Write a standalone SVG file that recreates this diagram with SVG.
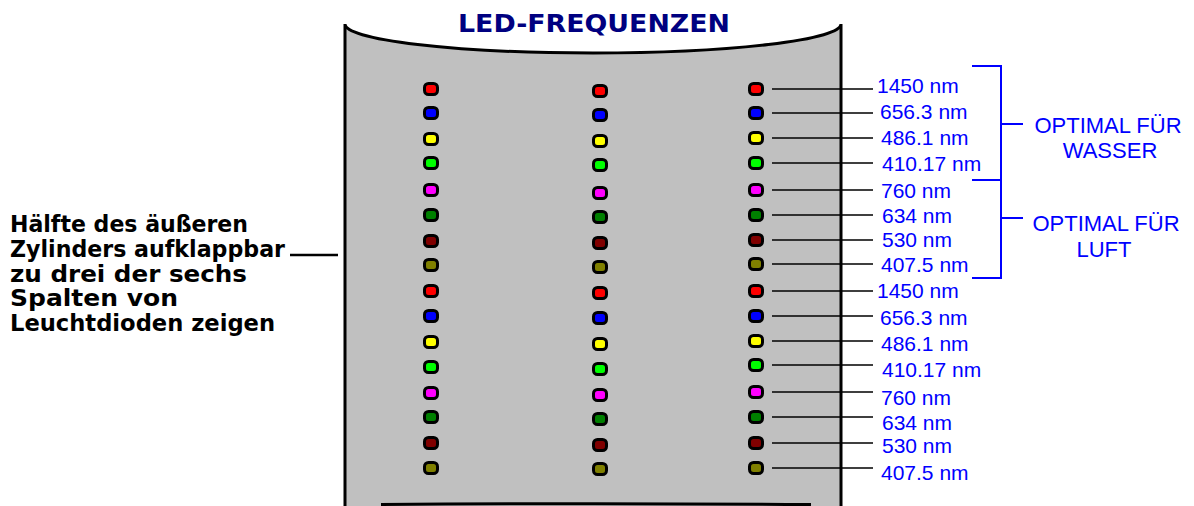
<svg xmlns="http://www.w3.org/2000/svg" width="1194" height="506" viewBox="0 0 1194 506">
<style>
.led{stroke:#000;stroke-width:3}
.r{fill:#ff0000}.b{fill:#0000ff}.y{fill:#ffff00}.g{fill:#00ff00}.m{fill:#ff00ff}.dg{fill:#008000}.dr{fill:#800000}.ol{fill:#808000}
.nm{font-family:"Liberation Sans",Arial,sans-serif;font-size:21px;fill:#0000ff}
.opt{font-family:"Liberation Sans",Arial,sans-serif;font-size:22px;fill:#0000ff;text-anchor:middle}
.lbl{font-family:"DejaVu Sans",sans-serif;font-weight:bold;font-size:23px;fill:#000}
.ln{stroke:#000;stroke-width:1.6;fill:none}
.br{stroke:#0000ff;stroke-width:2;fill:none}
</style>
<defs>
<rect id="led" x="-6.5" y="-5.5" width="13" height="11" rx="4"/>
</defs>
<rect width="1194" height="506" fill="#fff"/>
<g id="cylinder">
<path d="M345,24 A248,29 0 0 0 841,24 L841,506 L345,506 Z" fill="#c0c0c0"/>
<path d="M345,506 L345,24 A248,29 0 0 0 841,24 L841,506" fill="none" stroke="#000" stroke-width="3"/>
<path d="M381,504.5 Q595,503 811,504.5" fill="none" stroke="#000" stroke-width="3"/>
</g>
<g id="title">
<text x="594" y="32" text-anchor="middle" font-family="DejaVu Sans, sans-serif" font-weight="bold" font-size="25" fill="#000080" textLength="272" lengthAdjust="spacingAndGlyphs">LED-FREQUENZEN</text>
</g>
<g id="left-label">
<text class="lbl" x="10" y="232" textLength="238" lengthAdjust="spacingAndGlyphs">Hälfte des äußeren</text>
<text class="lbl" x="10" y="257" textLength="275" lengthAdjust="spacingAndGlyphs">Zylinders aufklappbar</text>
<text class="lbl" x="10" y="282" textLength="237" lengthAdjust="spacingAndGlyphs">zu drei der sechs</text>
<text class="lbl" x="10" y="306" textLength="168" lengthAdjust="spacingAndGlyphs">Spalten von</text>
<text class="lbl" x="10" y="331" textLength="265" lengthAdjust="spacingAndGlyphs">Leuchtdioden zeigen</text>
</g>
<g id="led-column-left" class="led">
<use href="#led" x="431" y="89" class="r"/>
<use href="#led" x="431" y="113" class="b"/>
<use href="#led" x="431" y="139" class="y"/>
<use href="#led" x="431" y="163" class="g"/>
<use href="#led" x="431" y="190" class="m"/>
<use href="#led" x="431" y="215" class="dg"/>
<use href="#led" x="431" y="241" class="dr"/>
<use href="#led" x="431" y="265" class="ol"/>
<use href="#led" x="431" y="291" class="r"/>
<use href="#led" x="431" y="316" class="b"/>
<use href="#led" x="431" y="342" class="y"/>
<use href="#led" x="431" y="367" class="g"/>
<use href="#led" x="431" y="393" class="m"/>
<use href="#led" x="431" y="417" class="dg"/>
<use href="#led" x="431" y="443" class="dr"/>
<use href="#led" x="431" y="468" class="ol"/>
</g>
<g id="led-column-middle" class="led">
<use href="#led" x="600" y="91" class="r"/>
<use href="#led" x="600" y="115" class="b"/>
<use href="#led" x="600" y="141" class="y"/>
<use href="#led" x="600" y="165" class="g"/>
<use href="#led" x="600" y="193" class="m"/>
<use href="#led" x="600" y="217" class="dg"/>
<use href="#led" x="600" y="243" class="dr"/>
<use href="#led" x="600" y="267" class="ol"/>
<use href="#led" x="600" y="293" class="r"/>
<use href="#led" x="600" y="318" class="b"/>
<use href="#led" x="600" y="344" class="y"/>
<use href="#led" x="600" y="369" class="g"/>
<use href="#led" x="600" y="395" class="m"/>
<use href="#led" x="600" y="419" class="dg"/>
<use href="#led" x="600" y="445" class="dr"/>
<use href="#led" x="600" y="469" class="ol"/>
</g>
<g id="led-column-right" class="led">
<use href="#led" x="756" y="89" class="r"/>
<use href="#led" x="756" y="113" class="b"/>
<use href="#led" x="756" y="138" class="y"/>
<use href="#led" x="756" y="163" class="g"/>
<use href="#led" x="756" y="190" class="m"/>
<use href="#led" x="756" y="215" class="dg"/>
<use href="#led" x="756" y="240" class="dr"/>
<use href="#led" x="756" y="264" class="ol"/>
<use href="#led" x="756" y="291" class="r"/>
<use href="#led" x="756" y="316" class="b"/>
<use href="#led" x="756" y="341" class="y"/>
<use href="#led" x="756" y="365" class="g"/>
<use href="#led" x="756" y="392" class="m"/>
<use href="#led" x="756" y="417" class="dg"/>
<use href="#led" x="756" y="443" class="dr"/>
<use href="#led" x="756" y="468" class="ol"/>
</g>
<g id="wavelength-labels" class="nm">
<text x="877" y="93">1450 nm</text>
<text x="880" y="119">656.3 nm</text>
<text x="881" y="145">486.1 nm</text>
<text x="882" y="171">410.17 nm</text>
<text x="881" y="198">760 nm</text>
<text x="882" y="223">634 nm</text>
<text x="882" y="247">530 nm</text>
<text x="881" y="272">407.5 nm</text>
<text x="877" y="298">1450 nm</text>
<text x="880" y="325">656.3 nm</text>
<text x="881" y="351">486.1 nm</text>
<text x="882" y="377">410.17 nm</text>
<text x="881" y="405">760 nm</text>
<text x="882" y="430">634 nm</text>
<text x="882" y="453">530 nm</text>
<text x="881" y="480">407.5 nm</text>
</g>
<g id="group-wasser">
<text class="opt" x="1108" y="133">OPTIMAL FÜR</text>
<text class="opt" x="1110" y="158">WASSER</text>
</g>
<g id="group-luft">
<text class="opt" x="1106" y="231">OPTIMAL FÜR</text>
<text class="opt" x="1104" y="257">LUFT</text>
</g>
<g id="connectors">
<path class="ln" d="M772,89H873M772,113H873M772,138H873M772,163H873M772,190H873M772,215H873M772,240H873M772,264H873M772,291H873M772,316H873M772,341H873M772,365H873M772,392H873M772,417H873M772,443H873M772,468H873"/>
<path d="M290,255H338" stroke="#000" stroke-width="2.5"/>
<path class="br" d="M972,66H1001V278H972M972,180H1001M1001,124H1023M1001,218H1023"/>
</g>
</svg>
